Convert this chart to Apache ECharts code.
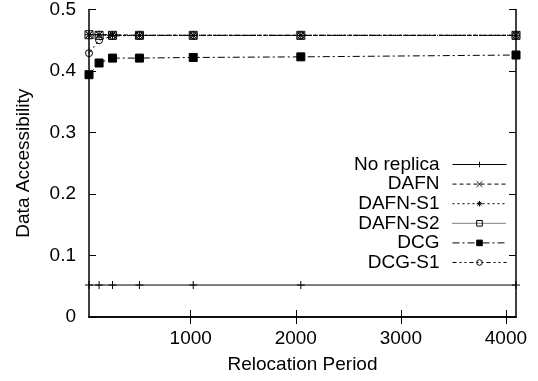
<!DOCTYPE html>
<html><head><meta charset="utf-8">
<script src="https://cdn.jsdelivr.net/npm/echarts@6/dist/echarts.min.js"></script>
<style>html,body{margin:0;padding:0;background:#fff}#c{width:538px;height:381px}</style>
</head><body><div id="c"></div>
<script>
const periods = [32, 128, 256, 512, 1024, 2048, 4096];
const noReplica = [0.052, 0.052, 0.052, 0.052, 0.052, 0.052, 0.052];
const dafn   = [0.459, 0.459, 0.459, 0.458, 0.458, 0.458, 0.458];
const dafnS1 = [0.459, 0.459, 0.458, 0.458, 0.458, 0.458, 0.458];
const dafnS2 = [0.459, 0.458, 0.458, 0.458, 0.458, 0.458, 0.458];
const dcg    = [0.394, 0.413, 0.421, 0.421, 0.422, 0.423, 0.426];
const dcgS1  = [0.429, 0.450, 0.457, 0.458, 0.458, 0.458, 0.458];
const xTicks = [1000, 2000, 3000, 4000];
const yTicks = [0, 0.1, 0.2, 0.3, 0.4, 0.5];

const FONT = 'Liberation Sans';
const FS = 19;
const chart = echarts.init(document.getElementById('c'), null, {renderer: 'canvas'});
const pair = arr => periods.map((p, i) => [p, arr[i]]);
const PLUS = 'path://M0,5L10,5M5,0L5,10';
const CROSS = 'path://M0,0L10,10M10,0L0,10';
const STAR = 'path://M0,5L10,5M5,0L5,10M1.5,1.5L8.5,8.5M8.5,1.5L1.5,8.5';

function mk(name, data, type, symbol, size, fill) {
  return {
    name, type: 'line', data: pair(data), xAxisIndex: 0, yAxisIndex: 0,
    symbol, symbolSize: size, showAllSymbol: true,
    lineStyle: {color: '#000', width: 1, type},
    itemStyle: {color: fill, borderColor: '#000', borderWidth: 1},
    emphasis: {disabled: true}, animation: false
  };
}
const axisLine = {show: true, lineStyle: {color: '#000', width: 1.5}};
const tickStyle = {show: true, inside: true, length: 7, lineStyle: {color: '#000', width: 1}};
chart.setOption({
  animation: false,
  textStyle: {fontFamily: FONT},
  grid: {left: 89, right: 22, top: 8, bottom: 64, containLabel: false},
  xAxis: [
    {type: 'value', min: 32, max: 4096, position: 'bottom',
     name: 'Relocation Period', nameLocation: 'middle', nameGap: 38,
     nameTextStyle: {fontSize: FS, color: '#000', fontFamily: FONT},
     axisLine, splitLine: {show: false},
     axisTick: Object.assign({customValues: xTicks}, tickStyle),
     axisLabel: {customValues: xTicks, fontSize: FS, color: '#000', margin: 12, fontFamily: FONT,
       formatter: v => String(v)}},
    {type: 'value', min: 32, max: 4096, position: 'top',
     axisLine, splitLine: {show: false},
     axisTick: Object.assign({customValues: xTicks}, tickStyle),
     axisLabel: {show: false}}
  ],
  yAxis: [
    {type: 'value', min: 0, max: 0.5, interval: 0.1, position: 'left',
     name: 'Data Accessibility', nameLocation: 'middle', nameGap: 56, nameRotate: 90,
     nameTextStyle: {fontSize: FS, color: '#000', fontFamily: FONT},
     axisLine, splitLine: {show: false}, axisTick: tickStyle,
     axisLabel: {fontSize: FS, color: '#000', margin: 13, fontFamily: FONT,
       customValues: yTicks, formatter: v => String(Math.round(v * 10) / 10)}},
    {type: 'value', min: 0, max: 0.5, interval: 0.1, position: 'right',
     axisLine, splitLine: {show: false}, axisTick: tickStyle, axisLabel: {show: false}}
  ],
  legend: {
    orient: 'vertical', right: 31, top: 155, align: 'right', padding: 0,
    itemWidth: 54, itemHeight: 7, itemGap: 0.6,
    lineStyle: {width: 1},
    itemStyle: {borderWidth: 1},
    textStyle: {fontSize: FS, color: '#000', fontFamily: FONT, lineHeight: 19, padding: [0, 8, 0, 0]},
    inactiveColor: '#000', selectedMode: false,
    data: ['No replica', 'DAFN', 'DAFN-S1', 'DAFN-S2', 'DCG', 'DCG-S1']
  },
  series: [
    mk('No replica', noReplica, 'solid', PLUS, 8, '#000'),
    mk('DAFN', dafn, [4, 3], CROSS, 7, '#000'),
    mk('DAFN-S1', dafnS1, [2, 3], STAR, 8, '#000'),
    mk('DAFN-S2', dafnS2, [1, 1], 'rect', 8, 'transparent'),
    mk('DCG', dcg, [7, 3, 2, 3], 'rect', 8, '#000'),
    mk('DCG-S1', dcgS1, [4, 3, 2, 3, 2, 3], 'circle', 7, 'transparent')
  ]
});
</script></body></html>
